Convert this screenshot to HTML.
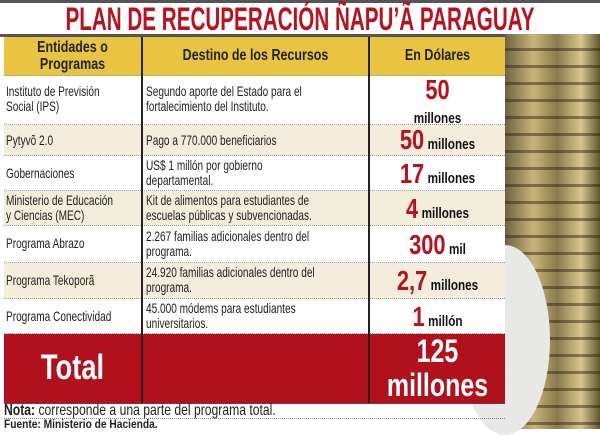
<!DOCTYPE html>
<html><head><meta charset="utf-8"><style>
body{margin:0;width:600px;height:429px;overflow:hidden;background:#fff;font-family:"Liberation Sans",sans-serif;position:relative}
.a{position:absolute;white-space:nowrap}
.t{font-size:14px;color:#222;line-height:15px;transform:scaleX(.72);transform-origin:left top}
.c{transform:scaleX(.78);transform-origin:center top;text-align:center}
.r{color:#b8121f;font-weight:bold}
.m{color:#111;font-weight:bold;font-size:15px}
.row{position:absolute;left:4px;width:501px;border-bottom:1px dotted #999}
.vl{position:absolute;top:37px;width:2px;height:366px;background:#222}
</style></head><body>
<div class="a" style="left:0;top:0;width:600px;height:3px;background:#555"></div>
<div class="a" style="left:-200px;top:1px;width:1000px;text-align:center;font-size:32px;font-weight:bold;color:#b8121f;transform:scaleX(.645);transform-origin:center top">PLAN DE RECUPERACIÓN ÑAPU’Ã PARAGUAY</div>
<div class="a" style="left:505px;top:34px;width:95px;height:395px;background:linear-gradient(90deg,#6d6443,#c9b57a 30%,#8a7b4e 55%,#d9c58d 80%,#5f5535)"></div>
<div class="a" style="left:505px;top:34px;width:95px;height:395px;background:repeating-linear-gradient(180deg,rgba(0,0,0,0) 0 14px,rgba(40,30,10,.45) 14px 17px)"></div>
<div class="a" style="left:460px;top:245px;width:90px;height:190px;border-radius:50%;background:#e8e8e6"></div>
<div class="a" style="left:0;top:34px;width:505px;height:3px;background:#555"></div>
<div class="row" style="top:37px;height:38px;background:#e9c441"></div>
<div class="row" style="top:76px;height:48px;background:#fff"></div>
<div class="row" style="top:125px;height:30px;background:#f4eddb"></div>
<div class="row" style="top:156px;height:34px;background:#fff"></div>
<div class="row" style="top:191px;height:34px;background:#f4eddb"></div>
<div class="row" style="top:226px;height:36px;background:#fff"></div>
<div class="row" style="top:263px;height:35px;background:#f4eddb"></div>
<div class="row" style="top:299px;height:34px;background:#fff"></div>
<div class="row" style="top:334px;height:69px;background:#b0111c;border-bottom:1px dotted #555"></div>
<div class="vl" style="left:141px"></div>
<div class="vl" style="left:368px"></div>
<div class="a c" style="left:4px;top:39px;width:137px;font-weight:bold;font-size:16px;line-height:17px;color:#222">Entidades o<br>Programas</div>
<div class="a c" style="left:143px;top:47px;width:225px;font-weight:bold;font-size:16px;color:#222">Destino de los Recursos</div>
<div class="a c" style="left:370px;top:47px;width:135px;font-weight:bold;font-size:16px;color:#222">En Dólares</div>

<div class="a t" style="left:6px;top:84px">Instituto de Previsión<br>Social (IPS)</div>
<div class="a t" style="left:146px;top:84px">Segundo aporte del Estado para el<br>fortalecimiento del Instituto.</div>
<div class="a c" style="left:370px;top:78px;width:135px;line-height:24px"><span class="r" style="font-size:28px">50</span><br><span class="m">millones</span></div>

<div class="a t" style="left:6px;top:133px">Pytyvõ 2.0</div>
<div class="a t" style="left:146px;top:133px">Pago a 770.000 beneficiarios</div>
<div class="a c" style="left:370px;top:124px;width:135px"><span class="r" style="font-size:28px">50</span> <span class="m">millones</span></div>

<div class="a t" style="left:6px;top:166px">Gobernaciones</div>
<div class="a t" style="left:146px;top:158px">US$ 1 millón por gobierno<br>departamental.</div>
<div class="a c" style="left:370px;top:158px;width:135px"><span class="r" style="font-size:28px">17</span> <span class="m">millones</span></div>

<div class="a t" style="left:6px;top:193px">Ministerio de Educación<br>y Ciencias (MEC)</div>
<div class="a t" style="left:146px;top:193px">Kit de alimentos para estudiantes de<br>escuelas públicas y subvencionadas.</div>
<div class="a c" style="left:370px;top:193px;width:135px"><span class="r" style="font-size:28px">4</span> <span class="m">millones</span></div>

<div class="a t" style="left:6px;top:236px">Programa Abrazo</div>
<div class="a t" style="left:146px;top:229px">2.267 familias adicionales dentro del<br>programa.</div>
<div class="a c" style="left:370px;top:229px;width:135px"><span class="r" style="font-size:28px">300</span> <span class="m">mil</span></div>

<div class="a t" style="left:6px;top:273px">Programa Tekoporã</div>
<div class="a t" style="left:146px;top:265px">24.920 familias adicionales dentro del<br>programa.</div>
<div class="a c" style="left:370px;top:265px;width:135px"><span class="r" style="font-size:28px">2,7</span> <span class="m">millones</span></div>

<div class="a t" style="left:6px;top:309px">Programa Conectividad</div>
<div class="a t" style="left:146px;top:301px">45.000 módems para estudiantes<br>universitarios.</div>
<div class="a c" style="left:370px;top:301px;width:135px"><span class="r" style="font-size:28px">1</span> <span class="m">millón</span></div>

<div class="a c" style="left:4px;top:348px;width:137px;color:#fff;font-weight:bold;font-size:35px">Total</div>
<div class="a c" style="left:370px;top:334px;width:135px;color:#fff;font-weight:bold;font-size:32px;line-height:34px">125<br>millones</div>

<div class="a" style="left:4px;top:404px;width:501px;border-bottom:1px dotted #888;height:14px"></div>
<div class="a t" style="left:4px;top:403px;font-size:16px;line-height:15px;transform:scaleX(.76)"><b>Nota:</b> corresponde a una parte del programa total.</div>
<div class="a t" style="left:4px;top:417px;font-size:12px;font-weight:bold;transform:scaleX(.85)">Fuente: Ministerio de Hacienda.</div>
</body></html>
